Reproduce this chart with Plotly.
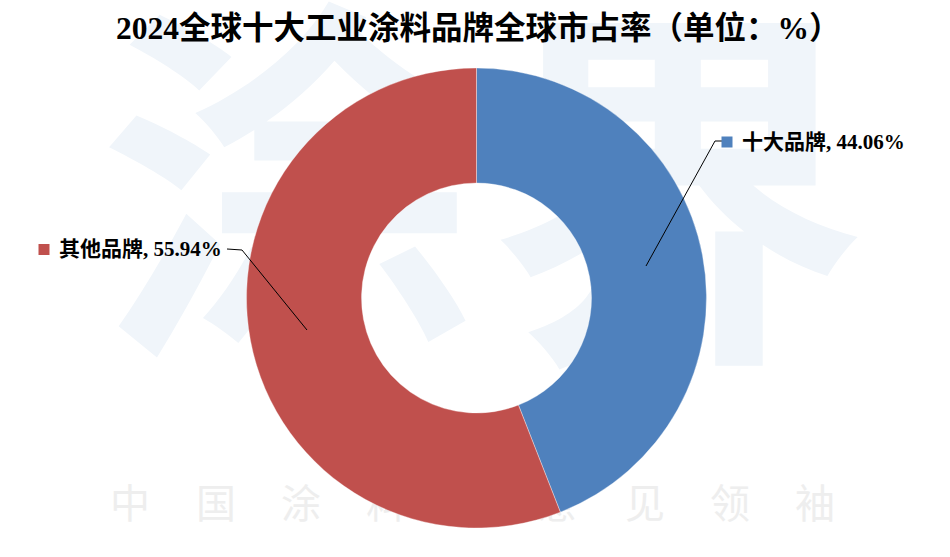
import math
import plotly.graph_objects as go

# ---------------- data ----------------
categories = ["十大品牌", "其他品牌"]
shares = [44.06, 55.94]
colors = ["#4F81BD", "#C0504D"]
title_text = "2024全球十大工业涂料品牌全球市占率（单位：%）"

# watermark texts
wm_big_chars = ["涂", "界"]
wm_small_chars = ["中", "国", "涂", "料", "意", "见", "领", "袖"]

# ---------------- layout constants ----------------
W, H = 950, 557
CX, CY, R = 476.5, 298, 230
HOLE = 0.5
SERIF = "Liberation Serif, Noto Sans CJK SC"

# label layout (pixel positions)
label_elbow = [(715, 141), (242, 250)]
label_end = [(722, 141), (227, 249)]
label_square = [(727, 142), (44, 249.5)]
label_text_x = [740, 57]
label_text_y = [142, 249]

fig = go.Figure()

# big faint watermark (behind the pie)
fig.add_trace(go.Scatter(
    x=[290, 678], y=[234, 238], mode="text", text=wm_big_chars,
    textfont=dict(size=380, color="#F0F5FA", family="Noto Sans CJK SC", weight=700),
    hoverinfo="skip", showlegend=False))

small_x = [130, 216, 301, 386, 557, 645, 730, 815]
fig.add_trace(go.Scatter(
    x=small_x, y=[508] * len(small_x), mode="text", text=wm_small_chars,
    textfont=dict(size=40, color="#EEEEEE", family="Noto Sans CJK SC"),
    hoverinfo="skip", showlegend=False))

# donut
fig.add_trace(go.Pie(
    labels=categories, values=shares, hole=HOLE, sort=False,
    direction="clockwise", rotation=0,
    marker=dict(colors=colors, line=dict(color="rgba(255,255,255,0.6)", width=0.6)),
    textinfo="none", hoverinfo="label+percent", showlegend=False,
    domain=dict(x=[(CX - R) / W, (CX + R) / W],
                y=[(H - CY - R) / H, (H - CY + R) / H])))

shapes = []
annotations = []
total = sum(shares)
cum = 0.0
rm = R * (1 + HOLE) / 2
for i, (cat, v) in enumerate(zip(categories, shares)):
    mid = math.radians((cum + v / 2) / total * 360)
    cum += v
    px = CX + rm * math.sin(mid)
    py = CY - rm * math.cos(mid)
    ex, ey = label_elbow[i]
    fx, fy = label_end[i]
    shapes.append(dict(type="path", xref="x", yref="y",
                       path=f"M {px:.2f},{py:.2f} L {ex},{ey} L {fx},{fy}",
                       line=dict(color="black", width=1)))
    sx, sy = label_square[i]
    shapes.append(dict(type="rect", xref="x", yref="y",
                       x0=sx - 5.5, x1=sx + 5.5, y0=sy - 5.5, y1=sy + 5.5,
                       fillcolor=colors[i], line=dict(width=0)))
    annotations.append(dict(
        x=label_text_x[i], y=label_text_y[i], xref="x", yref="y",
        xanchor="left", yanchor="middle", showarrow=False,
        text=f"<b>{cat}, {v:.2f}%</b>",
        font=dict(size=21, color="black", family=SERIF)))

annotations.append(dict(
    x=478, y=28, xref="x", yref="y", xanchor="center", yanchor="middle",
    showarrow=False, text=f"<b>{title_text}</b>",
    font=dict(size=31.5, color="black", family=SERIF)))

fig.update_layout(
    width=W, height=H, margin=dict(l=0, r=0, t=0, b=0),
    paper_bgcolor="white", plot_bgcolor="white",
    xaxis=dict(range=[0, W], visible=False, fixedrange=True, domain=[0, 1]),
    yaxis=dict(range=[H, 0], visible=False, fixedrange=True, domain=[0, 1]),
    shapes=shapes, annotations=annotations, showlegend=False)

fig.write_html("out.html", config={"displayModeBar": False},
               post_script="document.body.style.margin='0px';document.body.style.overflow='hidden';")
